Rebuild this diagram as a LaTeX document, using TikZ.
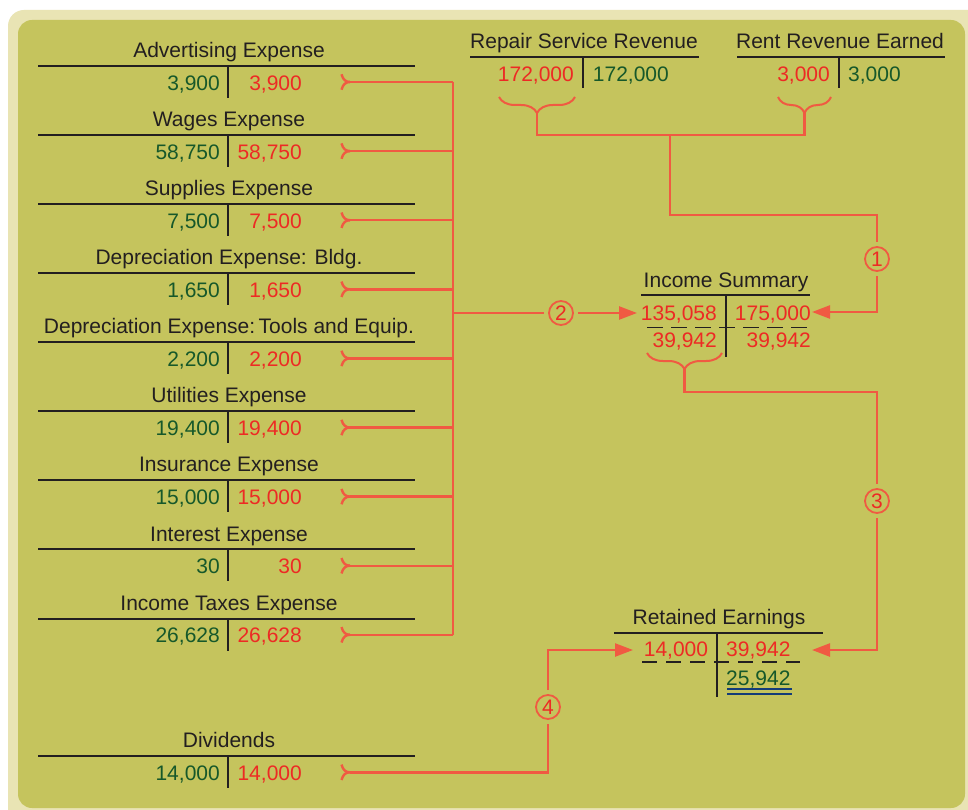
\documentclass[tikz,border=0pt]{standalone}
\usepackage{fontspec}
\setmainfont{Liberation Sans}
\usetikzlibrary{arrows.meta,decorations.pathreplacing,calc}
\definecolor{olivebg}{RGB}{197,196,93}
\definecolor{paleol}{RGB}{233,228,180}
\definecolor{numred}{RGB}{237,42,36}
\definecolor{numgreen}{RGB}{22,88,42}
\definecolor{conncol}{RGB}{240,90,66}
\definecolor{ink}{RGB}{35,31,32}
\definecolor{dblue}{RGB}{20,60,120}
\newcommand\diafont{\fontsize{21}{25}\selectfont}
\tikzset{
  conn/.style={draw=conncol,line width=2.4pt},
  arr/.style={-{Triangle[length=18pt,width=13pt]}},
  tline/.style={draw=ink,line width=2pt},
  ttl/.style={text=ink,anchor=base,inner sep=0pt,font=\diafont},
  gnum/.style={text=numgreen,inner sep=0pt,font=\diafont},
  rnum/.style={text=numred,inner sep=0pt,font=\diafont},
  circ/.style={circle,draw=conncol,line width=1.8pt,minimum size=24pt,inner sep=0pt,outer sep=5pt,text=numred,font=\fontsize{21}{21}\selectfont},
  bracestyle/.style={draw=conncol,line width=2pt,decorate,decoration={brace,mirror,amplitude=16pt,aspect=0.5}},
  dashline/.style={draw=ink,line width=1.6pt},
  fork/.pic={
    \draw[conn] (0,0) .. controls (-4,0) and (-7,-2) .. (-8.5,-7.7);
    \draw[conn] (0,0) .. controls (-4,0) and (-7,2) .. (-8.5,7.7);
  }
}
% #1 name, #2 line y, #3 title, #4 left amount, #5 right amount
\newcommand\ExpAcct[5]{%
  \node[ttl] (#1-t) at (229,#2-8.4) {#3};
  \draw[tline] (38,#2) coordinate (#1-L) -- (415,#2) coordinate (#1-R);
  \draw[tline] (228,#2) coordinate (#1-vt) -- (228,#2+32) coordinate (#1-vb);
  \node[gnum,anchor=base east] (#1-d) at (220,#2+24.4) {#4};
  \node[rnum,anchor=base east] (#1-c) at (302,#2+24.4) {#5};
  \coordinate (#1-f) at (350,#2+16.3);
  \pic at (#1-f) {fork};
}
\begin{document}
\begin{tikzpicture}[x=1pt,y=-1pt]
\useasboundingbox (0,0) rectangle (968,810);
\begin{scope}
  \clip (0,0) rectangle (968,810);
  \fill[white] (0,0) rectangle (968,810);
  \fill[paleol,rounded corners=16pt] (8,10) rectangle (985,828);
  \fill[olivebg,rounded corners=14pt] (18,20) rectangle (965,808);
\end{scope}

% expense accounts
\ExpAcct{adv}{65.7}{Advertising Expense}{3,900}{3,900}
\ExpAcct{wag}{134.8}{Wages Expense}{58,750}{58,750}
\ExpAcct{sup}{203.9}{Supplies Expense}{7,500}{7,500}
\ExpAcct{dbl}{273.0}{Depreciation Expense: Bldg.}{1,650}{1,650}
\ExpAcct{dtl}{342.1}{Depreciation Expense:\,Tools and Equip.}{2,200}{2,200}
\ExpAcct{utl}{411.2}{Utilities Expense}{19,400}{19,400}
\ExpAcct{ins}{480.3}{Insurance Expense}{15,000}{15,000}
\ExpAcct{int}{549.4}{Interest Expense}{30}{30}
\ExpAcct{tax}{618.5}{Income Taxes Expense}{26,628}{26,628}
\ExpAcct{div}{756}{Dividends}{14,000}{14,000}

% bus
\coordinate (busx) at (453,0);
\foreach \a in {adv,wag,sup,dbl,dtl,utl,ins,int,tax}{
  \draw[conn] (\a-f) -- (\a-f -| busx);
}
\draw[conn] (adv-f -| busx) -- (tax-f -| busx);

% circles
\node[circ] (c1) at (877,259) {1};
\node[circ] (c2) at (561,313) {2};
\node[circ] (c3) at (877,501) {3};
\node[circ] (c4) at (548,707) {4};

\coordinate (bus2) at (453,313);
\coordinate (a2) at (637,313);
\draw[conn] (bus2) -- (c2);
\draw[conn,arr] (c2) -- (a2);

% Repair Service Revenue
\node[ttl] (rsr-t) at (584,48.3) {Repair Service Revenue};
\draw[tline] (470,56.7) coordinate (rsr-L) -- (699,56.7) coordinate (rsr-R);
\draw[tline] (583.3,56.7) coordinate (rsr-vt) -- (583.3,88.5) coordinate (rsr-vb);
\node[rnum,anchor=base east] (rsr-d) at (574,81.7) {172,000};
\node[gnum,anchor=base west] (rsr-c) at (592.7,81.7) {172,000};

% Rent Revenue Earned
\node[ttl] (rre-t) at (840,48.3) {Rent Revenue Earned};
\draw[tline] (737,56.7) coordinate (rre-L) -- (945,56.7) coordinate (rre-R);
\draw[tline] (839,56.7) coordinate (rre-vt) -- (839,88.5) coordinate (rre-vb);
\node[rnum,anchor=base east] (rre-d) at (830,81.7) {3,000};
\node[gnum,anchor=base west] (rre-c) at (848,81.7) {3,000};

% braces under revenues
\draw[bracestyle] (499,97) -- (575,97);
\draw[bracestyle] (778,97) -- (831,97);
\coordinate (b1) at (537,113);
\coordinate (b2) at (804.5,113);
\coordinate (j1) at (670,135);
\draw[conn] (b1) |- (j1) -| (b2);
\coordinate (k1) at (877,215);
\draw[conn] (j1) |- (k1) -- (c1);
\coordinate (k2) at (877,312);
\coordinate (a1) at (812,312);
\draw[conn,arr] (c1) -- (k2) -- (a1);

% Income Summary
\node[ttl] (is-t) at (726,287.7) {Income Summary};
\draw[tline] (641,295.3) coordinate (is-L) -- (810,295.3) coordinate (is-R);
\draw[tline] (726,295.3) coordinate (is-vt) -- (726,357) coordinate (is-vb);
\node[rnum,anchor=base east] (is-d1) at (717,320) {135,058};
\node[rnum,anchor=base east] (is-c1) at (811,320) {175,000};
\draw[dashline,dash pattern=on 16pt off 8pt] (647,327.3) coordinate (is-dl) -- (808,327.3) coordinate (is-dr);
\node[rnum,anchor=base east] (is-d2) at (717,347) {39,942};
\node[rnum,anchor=base east] (is-c2) at (811,347) {39,942};
\draw[bracestyle] (647,353) -- (722,353);
\coordinate (b3) at (684.5,369);
\coordinate (k3) at (877,392);
\draw[conn] (b3) |- (k3) -- (c3);
\coordinate (k4) at (877,650);
\coordinate (a3) at (812,650);
\draw[conn,arr] (c3) -- (k4) -- (a3);

% Retained Earnings
\node[ttl] (re-t) at (719,624.3) {Retained Earnings};
\draw[tline] (614,632.7) coordinate (re-L) -- (823,632.7) coordinate (re-R);
\draw[tline] (717.3,632.7) coordinate (re-vt) -- (717.3,696.7) coordinate (re-vb);
\node[rnum,anchor=base east] (re-d1) at (708.3,656.7) {14,000};
\node[rnum,anchor=base west] (re-c1) at (726,656.7) {39,942};
\draw[dashline,dash pattern=on 15pt off 9pt] (642,661.7) coordinate (re-dl) -- (800,661.7) coordinate (re-dr);
\node[gnum,anchor=base west] (re-c2) at (726,685) {25,942};
\draw[draw=dblue,line width=2pt] (727,688.8) coordinate (re-u1l) -- (792,688.8) coordinate (re-u1r);
\draw[draw=dblue,line width=2pt] (727,694.3) coordinate (re-u2l) -- (792,694.3) coordinate (re-u2r);

% Dividends to Retained Earnings
\coordinate (k5) at (548,772.3);
\draw[conn] (div-f) -- (k5) -- (c4);
\coordinate (k6) at (548,650);
\coordinate (a4) at (633,650);
\draw[conn,arr] (c4) -- (k6) -- (a4);
\end{tikzpicture}
\end{document}
